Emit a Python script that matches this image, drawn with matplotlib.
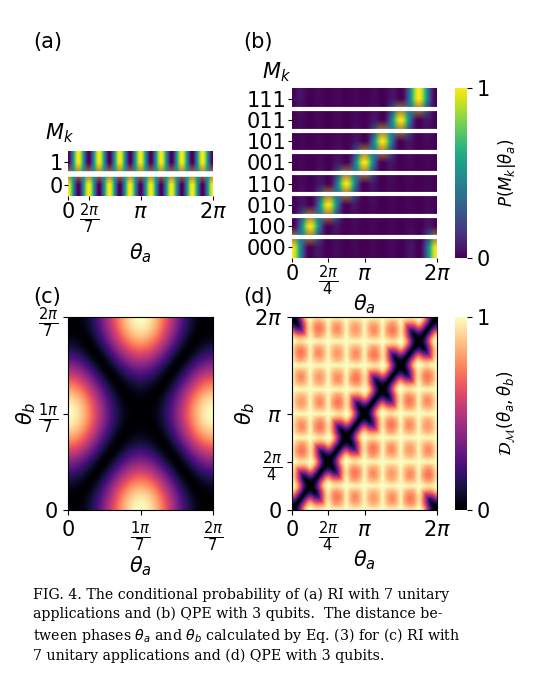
import numpy as np
import matplotlib
matplotlib.use("Agg")
import matplotlib.pyplot as plt

n_apps = 7
n_qubits = 3
labels_a = ["0", "1"]
labels_b = ["000", "100", "010", "110", "001", "101", "011", "111"]
N = 600
dist_power = 1.4

W, H = 547, 680
def ax_px(fig, x0, y0, x1, y1):
    return fig.add_axes([x0 / W, 1 - y1 / H, (x1 - x0) / W, (y1 - y0) / H])

th = np.linspace(0, 2 * np.pi, N)
pa = np.vstack([np.cos(n_apps * th / 2) ** 2, np.sin(n_apps * th / 2) ** 2])
M = 2 ** n_qubits
ks = np.arange(M)
js = np.arange(M)
amp = np.exp(1j * js[None, None, :] * (th[None, :, None] - 2 * np.pi * ks[:, None, None] / M)).sum(-1) / M
pb = np.abs(amp) ** 2

fig = plt.figure(figsize=(W / 100, H / 100), dpi=100)
fs = 15

# (a)
axa = ax_px(fig, 68, 151, 213, 196)
axa.imshow(pa, aspect="auto", origin="lower", cmap="viridis", extent=[0, 2*np.pi, -0.5, 1.5], interpolation="bilinear")
axa.axhline(0.5, color="white", lw=4)
axa.set_yticks([0, 1]); axa.set_yticklabels(labels_a, fontsize=fs)
axa.set_xticks([0, 2*np.pi/7, np.pi, 2*np.pi])
axa.set_xticklabels(["0", r"$\frac{2\pi}{7}$", r"$\pi$", r"$2\pi$"], fontsize=fs)
axa.set_xlabel(r"$\theta_a$", fontsize=fs)
for s in axa.spines.values(): s.set_visible(False)
axa.tick_params(length=3, pad=1)
fig.text(45/W, 1-133/H, r"$M_k$", fontsize=fs, va="center", ha="left")
fig.text(33/W, 1-42/H, "(a)", fontsize=fs, va="center")

# (b)
axb = ax_px(fig, 292, 88, 437, 258)
imb = axb.imshow(pb, aspect="auto", origin="lower", cmap="viridis", extent=[0, 2*np.pi, -0.5, M-0.5], interpolation="bilinear", vmin=0, vmax=1)
for k in range(M-1):
    axb.axhline(k + 0.5, color="white", lw=3)
axb.set_yticks(range(M)); axb.set_yticklabels(labels_b, fontsize=fs)
axb.set_xticks([0, np.pi/2, np.pi, 2*np.pi])
axb.set_xticklabels(["0", r"$\frac{2\pi}{4}$", r"$\pi$", r"$2\pi$"], fontsize=fs)
axb.set_xlabel(r"$\theta_a$", fontsize=fs, labelpad=-4)
for s in axb.spines.values(): s.set_visible(False)
axb.tick_params(length=3, pad=1)
fig.text(262/W, 1-72/H, r"$M_k$", fontsize=fs, va="center", ha="left")
fig.text(243/W, 1-42/H, "(b)", fontsize=fs, va="center")
cb1 = fig.colorbar(imb, cax=ax_px(fig, 455, 88, 467, 258), ticks=[0, 1])
cb1.ax.tick_params(labelsize=fs)
cb1.set_label(r"$P(M_k|\theta_a)$", fontsize=12)
cb1.outline.set_visible(False)

# (c)
tc = np.linspace(0, 2*np.pi/7, N)
A, B = np.meshgrid(tc, tc)
Dc = np.abs(np.cos(n_apps*A/2)**2 - np.cos(n_apps*B/2)**2) ** dist_power
axc = ax_px(fig, 68, 317, 213, 510)
axc.imshow(Dc, origin="lower", aspect="auto", cmap="magma", extent=[0, 2*np.pi/7, 0, 2*np.pi/7], vmin=0, vmax=1)
ct = [0, np.pi/7, 2*np.pi/7]
axc.set_xticks(ct); axc.set_yticks(ct)
axc.set_xticklabels(["0", r"$\frac{1\pi}{7}$", r"$\frac{2\pi}{7}$"], fontsize=fs)
axc.set_yticklabels(["0", r"$\frac{1\pi}{7}$", r"$\frac{2\pi}{7}$"], fontsize=fs)
axc.set_xlabel(r"$\theta_a$", fontsize=fs, labelpad=0)
axc.set_ylabel(r"$\theta_b$", fontsize=fs, labelpad=0)
fig.text(33/W, 1-297/H, "(c)", fontsize=fs, va="center")

# (d)
Dd = (0.5 * np.abs(pb[:, :, None] - pb[:, None, :]).sum(0)) ** dist_power
axd = ax_px(fig, 292, 317, 437, 510)
imd = axd.imshow(Dd.T, origin="lower", aspect="auto", cmap="magma", extent=[0, 2*np.pi, 0, 2*np.pi], vmin=0, vmax=1)
dt = [0, np.pi/2, np.pi, 2*np.pi]
dl = ["0", r"$\frac{2\pi}{4}$", r"$\pi$", r"$2\pi$"]
axd.set_xticks(dt); axd.set_xticklabels(dl, fontsize=fs)
axd.set_yticks(dt); axd.set_yticklabels(dl, fontsize=fs)
axd.set_xlabel(r"$\theta_a$", fontsize=fs, labelpad=-4)
axd.set_ylabel(r"$\theta_b$", fontsize=fs, labelpad=-2)
fig.text(243/W, 1-297/H, "(d)", fontsize=fs, va="center")
cb2 = fig.colorbar(imd, cax=ax_px(fig, 455, 317, 467, 510), ticks=[0, 1])
cb2.ax.tick_params(labelsize=fs)
cb2.set_label(r"$\mathcal{D}_{\mathcal{M}}(\theta_a,\theta_b)$", fontsize=12)
cb2.outline.set_visible(False)

caption = ("FIG. 4. The conditional probability of (a) RI with 7 unitary\n"
           "applications and (b) QPE with 3 qubits.  The distance be-\n"
           "tween phases $\\theta_a$ and $\\theta_b$ calculated by Eq. (3) for (c) RI with\n"
           "7 unitary applications and (d) QPE with 3 qubits.")
fig.text(33/W, 1-588/H, caption, fontsize=10.2, family="DejaVu Serif", va="top", ha="left", linespacing=1.35)

fig.savefig("out.png", dpi=100)
